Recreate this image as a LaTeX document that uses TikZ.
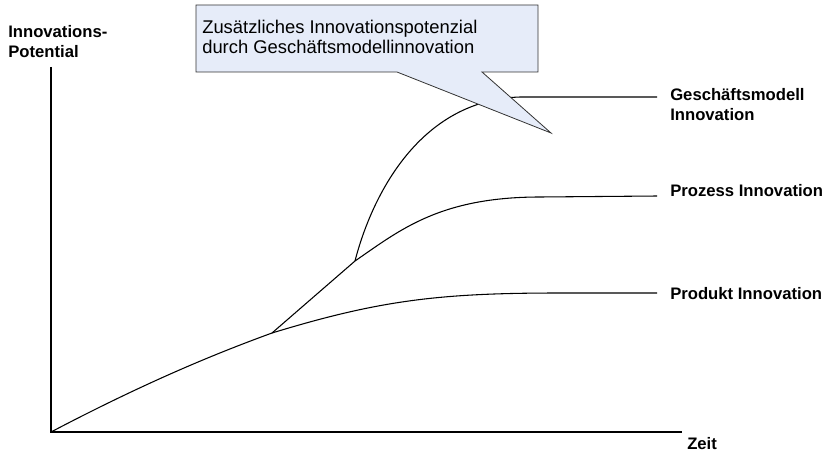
\documentclass[tikz,border=0pt]{standalone}
\usepackage{fontspec}
\setmainfont{Liberation Sans}
\definecolor{notefill}{RGB}{230,236,249}
\tikzset{
  axis/.style={black, line width=0.9pt},
  curve/.style={black, line width=0.8pt},
  lbl/.style={font=\bfseries\fontsize{12.5}{15}\selectfont, anchor=west, inner sep=0pt, align=left},
}
\begin{document}
\begin{tikzpicture}[x=0.75pt, y=-0.75pt]
    \useasboundingbox (0,0) rectangle (827,453);
    % Axes
    \coordinate (o) at (51,432);
    \coordinate (ytop) at (51,67);
    \coordinate (xend) at (682,432);
    \draw[axis] (ytop) -- (o) -- (xend);
    \node[lbl] (ylbl) at (8,42) {Innovations-\\Potential};
    \node[lbl] (xlbl) at (687,444) {Zeit};

    % Branch points
    \coordinate (b1) at (272,333);
    \coordinate (b2) at (355,261);
    % Line ends
    \foreach \n/\y in {1/293, 2/196, 3/97} \coordinate (e\n) at (657,\y);

    % Labels
    \node[lbl] (produkt) at (670,294) {Produkt Innovation};
    \node[lbl] (prozess) at (670,191) {Prozess Innovation};
    \node[lbl] (gm) at (670,105) {Geschäftsmodell\\Innovation};

    % Curves
    \draw[curve] (o) .. controls (150,380) and (220,352) .. (b1)
        .. controls (380,300) and (440,293) .. (560,293) -- (e1);
    \draw[curve] (b1) -- (b2) .. controls (400,230) and (440,197) .. (540,197) -- (e2);
    \draw[curve] (b2) .. controls (372,195) and (420,100) .. (520,97) -- (e3);

    % Callout
    \coordinate (nw) at (196,5);
    \coordinate (ne) at (538,5);
    \coordinate (se) at (538,72);
    \coordinate (sw) at (196,72);
    \coordinate (p1) at (397,72);
    \coordinate (p2) at (482,72);
    \coordinate (tip) at (551,133);
    \filldraw[fill=notefill, draw=black!80, line width=0.6pt, line join=miter]
        (nw) -- (ne) -- (se) -- (p2) -- (tip) -- (p1) -- (sw) -- cycle;
    \node[anchor=west, align=left, inner sep=0pt,
          font=\fontsize{13.8}{15.5}\selectfont]
          (note) at (202,37) {Zusätzliches Innovationspotenzial\\durch Geschäftsmodellinnovation};
\end{tikzpicture}
\end{document}
